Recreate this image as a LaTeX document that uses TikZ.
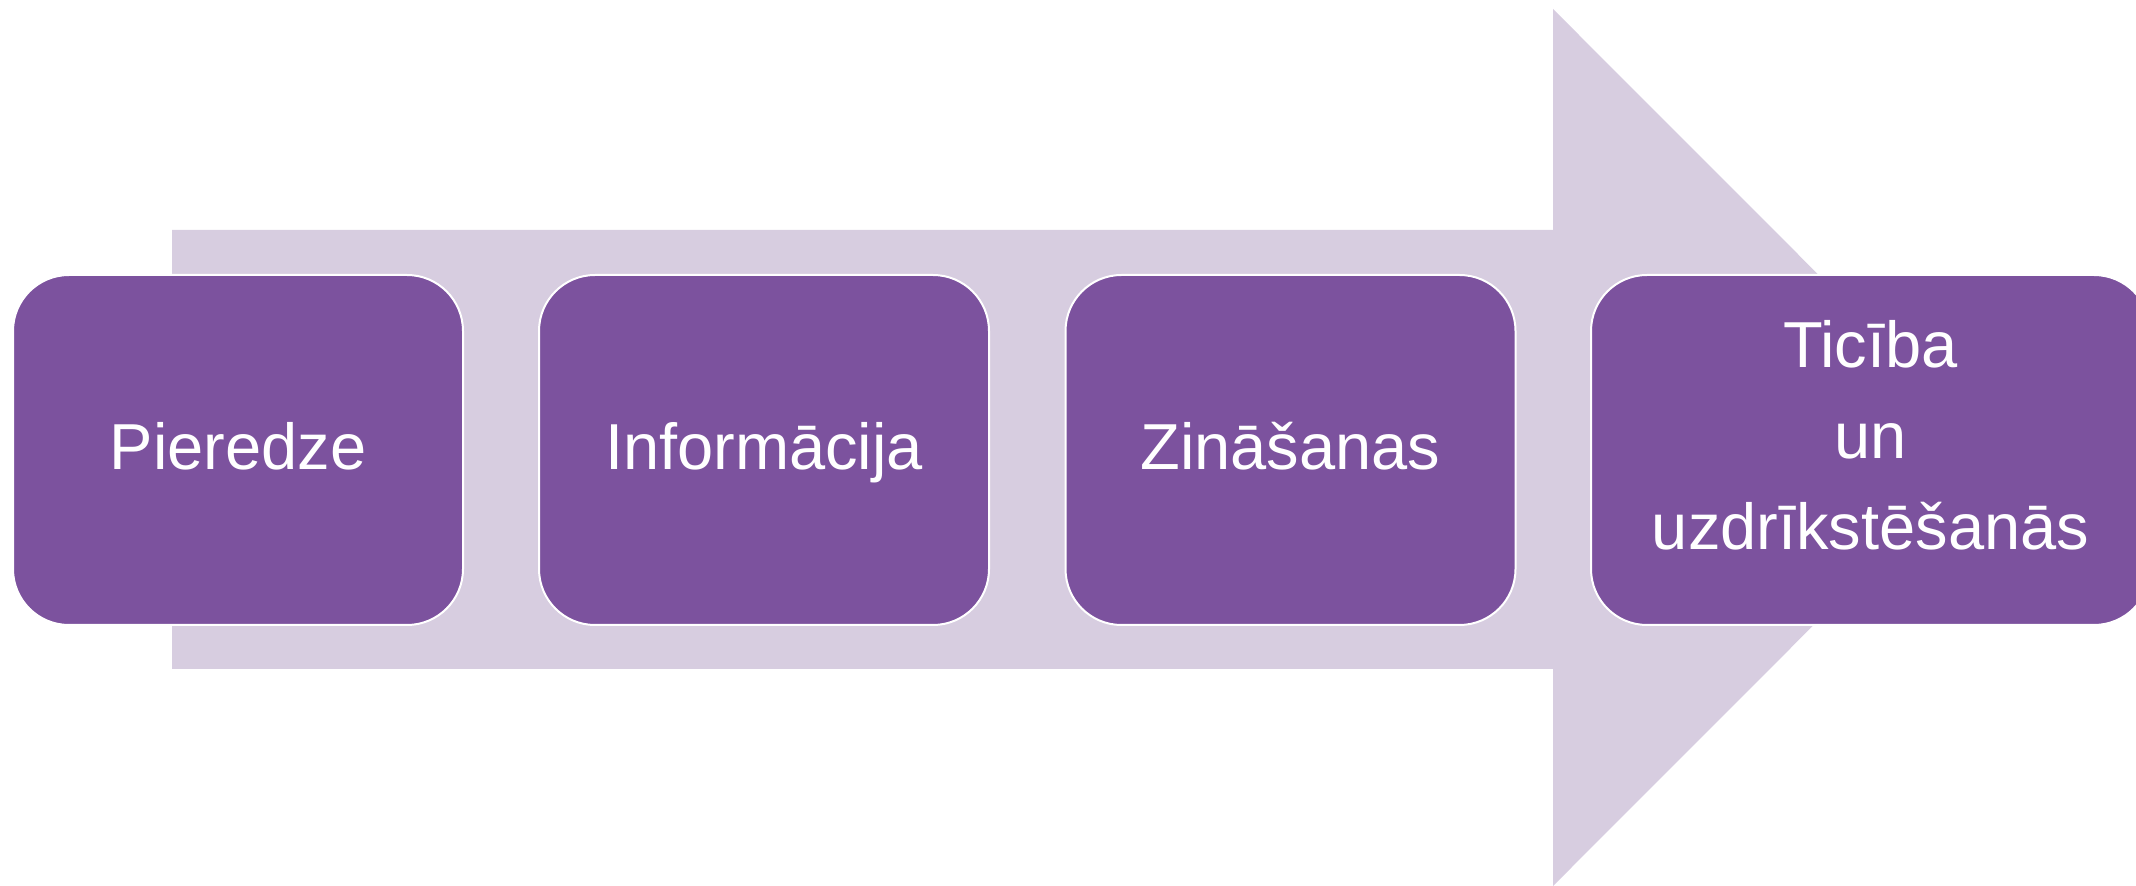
\documentclass[tikz,border=0pt]{standalone}
\usepackage{fontspec}
\setmainfont{Liberation Sans}
\definecolor{arrowc}{RGB}{215,205,224}
\definecolor{boxc}{RGB}{124,82,158}
\begin{document}
\begin{tikzpicture}[x=0.5pt,y=-0.5pt,
  stepbox/.style={draw=white, line width=1pt, fill=boxc, rounded corners=28pt,
    text=white, align=center, inner sep=0pt, minimum height=175pt,
    font=\fontsize{32.5}{45.5}\selectfont},
  oneline/.style={text height=24pt, text depth=4pt}]
\useasboundingbox (0,0) rectangle (2136,886);
\clip (0,0) rectangle (2136,886);
\fill[arrowc] (172,230) -- (1553,230) -- (1553,9) -- (1991,447.5) -- (1553,886) -- (1553,669) -- (172,669) -- cycle;
\node[stepbox, oneline, minimum width=225pt] (b1) at (238,450) {Pieredze};
\node[stepbox, oneline, minimum width=225pt] (b2) at (764,450) {Informācija};
\node[stepbox, oneline, minimum width=225pt] (b3) at (1290.5,450) {Zināšanas};
\node[stepbox, minimum width=279.5pt] (b4) at (1870.5,450) {Ticība\\un\\uzdrīkstēšanās\rule[-15pt]{0pt}{15pt}};
\end{tikzpicture}
\end{document}
